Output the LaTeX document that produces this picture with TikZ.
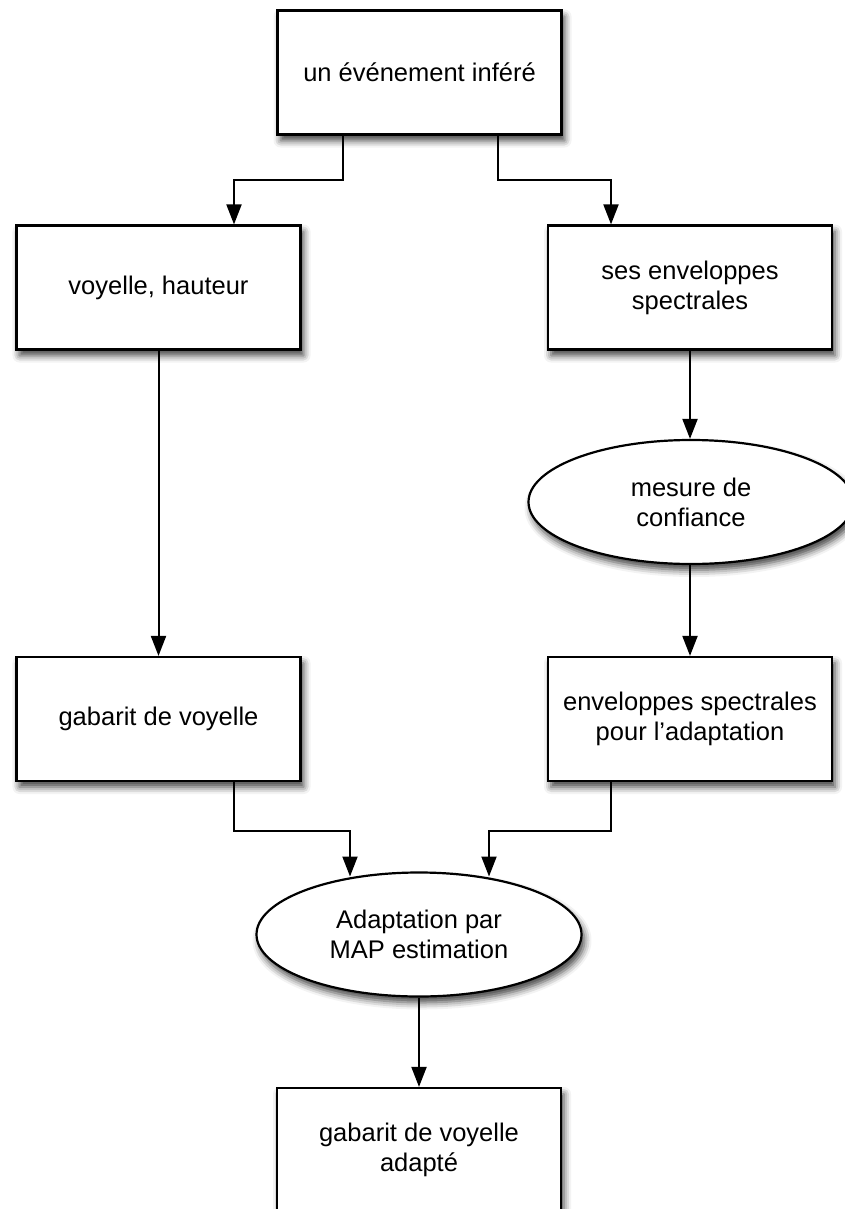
\documentclass[tikz,border=0pt]{standalone}
\usepackage{fontspec}
\setmainfont{Liberation Sans}
\usetikzlibrary{shapes.geometric,arrows.meta,calc,shadows.blur}
\tikzset{
  box/.style={draw=black, line width=2.2pt, fill=white, minimum width=284pt, minimum height=124pt,
    align=center, inner sep=0pt, font=\fontsize{25.5}{30}\selectfont,
    blur shadow={shadow xshift=3pt, shadow yshift=-6pt, shadow blur radius=7pt, shadow opacity=75}},
  oval/.style={box, ellipse, minimum width=325pt, minimum height=124pt},
  arr/.style={line width=2pt, -{Triangle[width=15pt,length=20pt]}},
}
\begin{document}
\begin{tikzpicture}[x=1pt,y=-1pt]
\useasboundingbox (0,0) rectangle (844,1209);
\node[box] (top) at (419.5,72.5) {un événement inféré};
\node[box] (vh) at (158.5,287.5) {voyelle, hauteur};
\node[box] (ses) at (690,287.5) {ses enveloppes\\spectrales};
\node[oval] (mes) at (691,502) {mesure de\\confiance};
\node[box] (gab) at (158.5,719) {gabarit de voyelle};
\node[box] (env) at (690,719) {enveloppes spectrales\\pour l\symbol{39}adaptation};
\node[oval] (map) at (419,934.5) {Adaptation par\\MAP estimation};
\node[box] (fin) at (419,1150) {gabarit de voyelle\\adapté};

\draw[arr] ([xshift=-76.5pt]top.south) -- ++(0,44) -| ([xshift=75.5pt]vh.north);
\draw[arr] ([xshift=78.5pt]top.south) -- ++(0,44) -| ([xshift=-79pt]ses.north);
\draw[arr] (vh.south) -- (gab.north);
\draw[arr] (ses.south) -- ($(mes.north)+(-1,0)$);
\draw[arr] ($(mes.south)+(-1,0)$) -- (env.north);
\draw[arr] ([xshift=75.5pt]gab.south) -- ++(0,49) -| ($(map.center)+(-69,-58)$);
\draw[arr] ([xshift=-79pt]env.south) -- ++(0,49) -| ($(map.center)+(70,-58)$);
\draw[arr] (map.south) -- (fin.north);
\end{tikzpicture}
\end{document}
